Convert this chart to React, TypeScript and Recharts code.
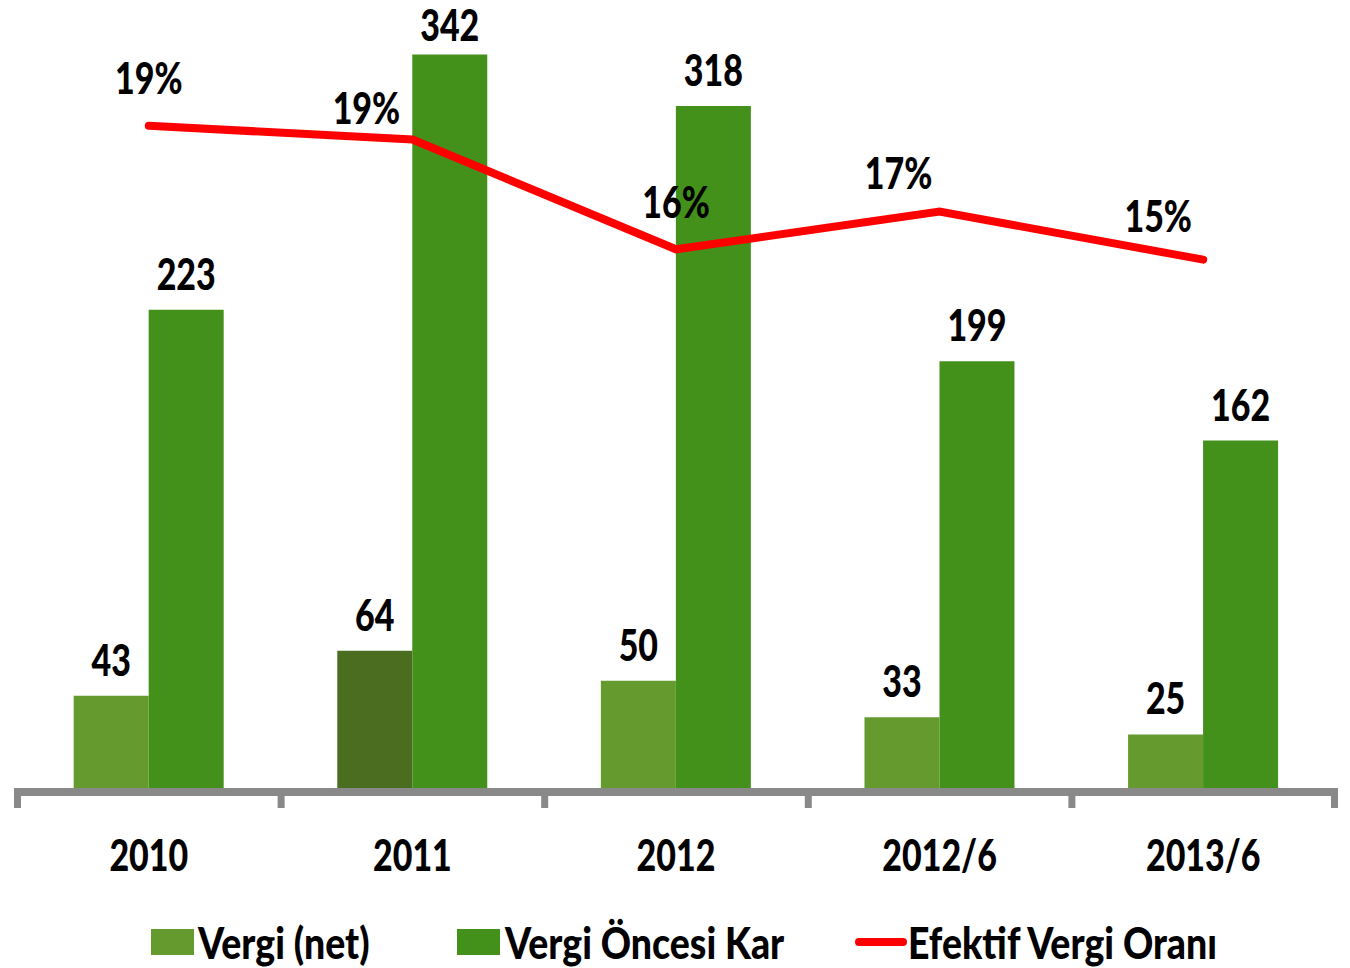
import { ComposedChart, Bar, Line, XAxis, YAxis, Legend, LabelList, Cell } from 'recharts';

const categories = ['2010', '2011', '2012', '2012/6', '2013/6'];
const vergiNet = [43, 64, 50, 33, 25];
const vergiOncesiKar = [223, 342, 318, 199, 162];
const efektifOran = [19.3, 18.9, 15.7, 16.8, 15.4];

const data = categories.map((name, i) => ({
    name,
    net: vergiNet[i],
    kar: vergiOncesiKar[i],
    oran: efektifOran[i],
}));

const FONT = 'Lato, "DejaVu Sans Condensed", sans-serif';
const FONT_SIZE = 43;
const WEIGHT = 900;
const SQUEEZE = 0.79; // narrow the glyphs to look like the original condensed face
const LEGEND_SQUEEZE = 0.87;
const NET_COLOR = '#659A2E';
const NET_DARK = '#4A6D1F';
const KAR_COLOR = '#43911A';
const AXIS_COLOR = '#898989';

// label nudges for the rate line (dx, dy to text baseline)
const rateLabelShift = [
    [0, -32], [-46, -16], [0, -31], [-41, -23], [-45, -28],
];

const PLOT_LEFT = 17;
const PLOT_RIGHT = 1335;
const BAND = (PLOT_RIGHT - PLOT_LEFT) / categories.length;

function Txt({ x, y, children }: any) {
    return (
        <text
            transform={`translate(${x},${y}) scale(${SQUEEZE},1)`}
            textAnchor="middle"
            fontFamily={FONT}
            fontWeight={WEIGHT}
            fontSize={FONT_SIZE}
            fill="#000"
        >
            {children}
        </text>
    );
}

function AxisTick(props: any) {
    const { x, y, payload, index } = props;
    const left = x - BAND / 2;
    const right = x + BAND / 2;
    return (
        <g>
            <rect x={left - 3} y={y} width={BAND + 3} height={8} fill={AXIS_COLOR} />
            <rect x={left - 3} y={y} width={7} height={20} fill={AXIS_COLOR} />
            {index === categories.length - 1 && (
                <rect x={right - 4} y={y} width={7} height={20} fill={AXIS_COLOR} />
            )}
            <Txt x={x} y={y + 83}>{payload.value}</Txt>
        </g>
    );
}

function RateLabel(props: any) {
    const { x, y, value, index } = props;
    const [dx, dy] = rateLabelShift[index] || [0, -28];
    return <Txt x={x + dx} y={y + dy}>{Math.round(value)}%</Txt>;
}

function BarLabel(props: any) {
    const { x, y, width, value } = props;
    return <Txt x={x + width / 2} y={Math.max(y - 20, 41)}>{value}</Txt>;
}

function LegendContent() {
    const text = {
        position: 'absolute' as const,
        top: 0,
        fontFamily: FONT,
        fontWeight: WEIGHT,
        fontSize: FONT_SIZE,
        color: '#000',
        lineHeight: '70px',
        whiteSpace: 'nowrap' as const,
        transform: `scaleX(${LEGEND_SQUEEZE})`,
        transformOrigin: 'left center',
    };
    return (
        <div style={{ position: 'relative', width: 1350, height: 60 }}>
            <span style={{ position: 'absolute', left: 151, top: 21, width: 43, height: 26, background: NET_COLOR }} />
            <span style={{ ...text, left: 198 }}>Vergi (net)</span>
            <span style={{ position: 'absolute', left: 457, top: 21, width: 43, height: 26, background: KAR_COLOR }} />
            <span style={{ ...text, left: 505 }}>Vergi Öncesi Kar</span>
            <span style={{ position: 'absolute', left: 855, top: 30, width: 52, height: 8, borderRadius: 4, background: '#FF0000' }} />
            <span style={{ ...text, left: 908 }}>Efektif Vergi Oranı</span>
        </div>
    );
}

export default function App() {
    return (
        <div style={{ position: 'absolute', left: 0, top: 0, width: 1350, height: 968, background: '#fff' }}>
            <ComposedChart
                width={1350}
                height={968}
                data={data}
                margin={{ top: 16, right: 1350 - PLOT_RIGHT, left: PLOT_LEFT, bottom: 0 }}
                barCategoryGap="21.5%"
                barGap={0}
            >
                <XAxis
                    dataKey="name"
                    axisLine={false}
                    tickLine={false}
                    tickSize={0}
                    tickMargin={0}
                    height={120}
                    interval={0}
                    tick={<AxisTick />}
                />
                <YAxis yAxisId="left" hide domain={[0, 360]} />
                <YAxis yAxisId="right" orientation="right" hide domain={[0, 22.5]} />
                <Legend
                    verticalAlign="bottom"
                    content={<LegendContent />}
                    wrapperStyle={{ height: 60, width: 1350, left: 0 }}
                />
                <Bar yAxisId="left" dataKey="net" name="Vergi (net)" fill={NET_COLOR} isAnimationActive={false}>
                    {data.map((d, i) => (
                        <Cell key={d.name} fill={i === 1 ? NET_DARK : NET_COLOR} />
                    ))}
                    <LabelList dataKey="net" content={<BarLabel />} />
                </Bar>
                <Bar yAxisId="left" dataKey="kar" name="Vergi Öncesi Kar" fill={KAR_COLOR} isAnimationActive={false}>
                    <LabelList dataKey="kar" content={<BarLabel />} />
                </Bar>
                <Line
                    yAxisId="right"
                    type="linear"
                    dataKey="oran"
                    name="Efektif Vergi Oranı"
                    stroke="#FF0000"
                    strokeWidth={8}
                    strokeLinecap="round"
                    dot={false}
                    activeDot={false}
                    isAnimationActive={false}
                >
                    <LabelList dataKey="oran" content={<RateLabel />} />
                </Line>
            </ComposedChart>
        </div>
    );
}
